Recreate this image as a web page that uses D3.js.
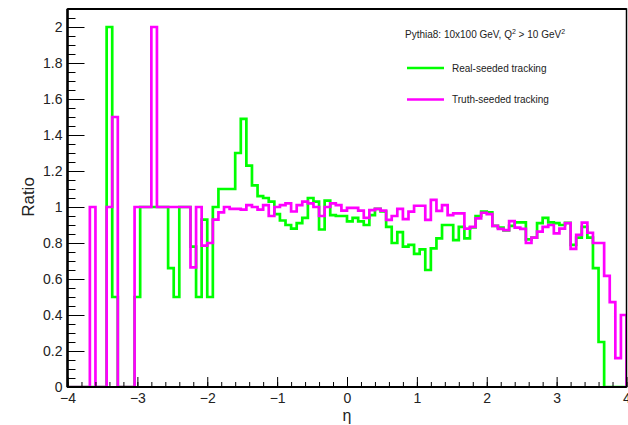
<!DOCTYPE html>
<html>
<head>
<meta charset="utf-8">
<script src="https://cdn.jsdelivr.net/npm/d3@7"></script>
<style>
  body { margin: 0; background: #fff; }
  svg { display: block; font-family: 'Liberation Sans', Arial, sans-serif; }
  .axis .domain { display: none; }
  .axis line { stroke: #000; }
  .axis text { fill: #222; }
</style>
</head>
<body>
<svg width="628" height="425"></svg>
<script>
// binning of both histograms: 100 bins of eta between -4 and 4
const etaMin = -4;
const etaMax = 4;
const nBins = 100;

// ratio per bin
const realSeeded = [
  0, 0, 0, 0, 0, 0, 0, 2.0, 0.5, 0,
  0, 0, 0.5, 1, 1, 1, 1, 1, 0.66, 0.5,
  1, 1, 0.78, 0.5, 0.93, 0.5, 1.0, 1.1, 1.1, 1.1,
  1.3, 1.49, 1.23, 1.12, 1.06, 1.05, 1.03, 0.96, 0.925, 0.9,
  0.88, 0.91, 0.94, 1.05, 1.03, 0.875, 1.035, 0.955, 0.95, 0.95,
  0.92, 0.94, 0.92, 0.9, 0.955, 0.99, 0.975, 0.89, 0.8, 0.86,
  0.78, 0.79, 0.74, 0.765, 0.65, 0.77, 0.826, 0.9, 0.9, 0.816,
  0.89, 0.826, 0.887, 0.95, 0.975, 0.97, 0.895, 0.885, 0.87, 0.895,
  0.915, 0.915, 0.82, 0.83, 0.91, 0.94, 0.915, 0.91, 0.9, 0.912,
  0.79, 0.83, 0.89, 0.83, 0.66, 0.25, 0, 0, 0, 0
];

const truthSeeded = [
  0, 0, 0, 0, 1.0, 0, 0, 1.0, 1.5, 0,
  0, 0, 1, 1, 1, 2.0, 1, 1, 1, 1,
  1, 1, 0.665, 1.0, 0.785, 0.8, 0.93, 0.97, 1.0, 0.99,
  0.99, 0.985, 1.01, 1.0, 0.985, 1.01, 0.95, 1.0, 1.01, 1.02,
  0.975, 1.01, 1.03, 1.02, 1.0, 0.95, 1.0, 1.02, 1.01, 0.98,
  0.995, 0.995, 0.98, 0.94, 0.983, 0.99, 0.98, 0.928, 0.95, 0.99,
  0.933, 0.974, 1.007, 1.007, 0.928, 1.04, 0.978, 1.01, 0.955, 0.965,
  0.965, 0.88, 0.89, 0.937, 0.968, 0.96, 0.895, 0.878, 0.872, 0.922,
  0.885, 0.878, 0.8, 0.83, 0.863, 0.89, 0.9, 0.853, 0.88, 0.91,
  0.767, 0.845, 0.913, 0.857, 0.8, 0.8, 0.617, 0.472, 0.16, 0.4
];

const seriesNames = ['Real-seeded tracking', 'Truth-seeded tracking'];
const seriesColors = ['#00ff00', '#ff00ff'];
const xTickValues = [-4, -3, -2, -1, 0, 1, 2, 3, 4];
const yTickValues = [0, 0.2, 0.4, 0.6, 0.8, 1, 1.2, 1.4, 1.6, 1.8, 2];

var svgElement = d3.select('svg');

var xScale = d3.scaleLinear().domain([etaMin, etaMax]).range([67.5, 626.5]);
var yScale = d3.scaleLinear().domain([0, 2.1]).range([387, 9]);

var binWidth = (etaMax - etaMin) / nBins;

// step outline like ROOT's HIST option
function stepPoints(values) {
  var pts = [[etaMin, 0]];
  values.forEach(function (v, i) {
    pts.push([etaMin + i * binWidth, v]);
    pts.push([etaMin + (i + 1) * binWidth, v]);
  });
  pts.push([etaMax, 0]);
  return pts;
}

var stepLine = d3.line()
  .x(function (d) { return xScale(d[0]); })
  .y(function (d) { return yScale(d[1]); });

svgElement.append('clipPath').attr('id', 'plotclip')
  .append('rect')
  .attr('x', xScale.range()[0])
  .attr('y', yScale.range()[1])
  .attr('width', xScale.range()[1] - xScale.range()[0])
  .attr('height', yScale.range()[0] - yScale.range()[1]);

svgElement.append('g')
  .attr('clip-path', 'url(#plotclip)')
  .selectAll('path')
  .data([realSeeded, truthSeeded])
  .enter()
  .append('path')
  .attr('d', function (d) { return stepLine(stepPoints(d)); })
  .attr('fill', 'none')
  .attr('stroke', function (d, i) { return seriesColors[i]; })
  .attr('stroke-width', 2.7)
  .attr('stroke-linejoin', 'miter');

// frame
svgElement.append('rect')
  .attr('x', xScale.range()[0])
  .attr('y', yScale.range()[1])
  .attr('width', xScale.range()[1] - xScale.range()[0])
  .attr('height', yScale.range()[0] - yScale.range()[1])
  .attr('fill', 'none')
  .attr('stroke', '#000')
  .attr('stroke-width', 1.5);

// y axis, ticks inside the frame
svgElement.append('g')
  .attr('class', 'axis')
  .attr('transform', 'translate(' + xScale.range()[0] + ',0)')
  .call(d3.axisLeft(yScale).tickValues(d3.range(0, 2.1001, 0.05)).tickSize(-8).tickFormat(''));

svgElement.append('g')
  .attr('class', 'axis')
  .attr('transform', 'translate(' + xScale.range()[0] + ',0)')
  .call(d3.axisLeft(yScale).tickValues(yTickValues).tickSize(-17).tickPadding(5)
    .tickFormat(function (d) { return String(+d.toFixed(1)); }))
  .selectAll('text')
  .attr('font-size', 14);

// x axis
svgElement.append('g')
  .attr('class', 'axis')
  .attr('transform', 'translate(0,' + yScale.range()[0] + ')')
  .call(d3.axisBottom(xScale).tickValues(d3.range(-4, 4.001, 0.2)).tickSize(-5).tickFormat(''));

svgElement.append('g')
  .attr('class', 'axis')
  .attr('transform', 'translate(0,' + yScale.range()[0] + ')')
  .call(d3.axisBottom(xScale).tickValues(xTickValues).tickSize(-10).tickPadding(6))
  .selectAll('text')
  .attr('font-size', 14);

// thicker left and bottom axis lines
svgElement.append('line')
  .attr('x1', xScale.range()[0]).attr('x2', xScale.range()[0])
  .attr('y1', yScale.range()[1]).attr('y2', yScale.range()[0])
  .attr('stroke', '#000').attr('stroke-width', 2.5);
svgElement.append('line')
  .attr('x1', xScale.range()[0]).attr('x2', xScale.range()[1])
  .attr('y1', yScale.range()[0]).attr('y2', yScale.range()[0])
  .attr('stroke', '#000').attr('stroke-width', 2.2);
svgElement.append('line')
  .attr('x1', xScale.range()[0]).attr('x2', xScale.range()[1])
  .attr('y1', yScale.range()[1]).attr('y2', yScale.range()[1])
  .attr('stroke', '#000').attr('stroke-width', 2.2);

// axis titles
svgElement.append('text')
  .attr('x', (xScale.range()[0] + xScale.range()[1]) / 2)
  .attr('y', 421)
  .attr('text-anchor', 'middle')
  .attr('font-size', 16)
  .attr('fill', '#222')
  .text('η');

svgElement.append('text')
  .attr('transform', 'translate(34,197) rotate(-90)')
  .attr('text-anchor', 'middle')
  .attr('font-size', 17)
  .attr('fill', '#222')
  .text('Ratio');

// legend
var legendGroup = svgElement.append('g').attr('class', 'legend');

var header = legendGroup.append('text')
  .attr('x', 405)
  .attr('y', 38)
  .attr('font-size', 10)
  .attr('fill', '#222');
header.append('tspan').text('Pythia8: 10x100 GeV, Q');
header.append('tspan').attr('font-size', 7).attr('dy', -4).text('2');
header.append('tspan').attr('dy', 4).text(' > 10 GeV');
header.append('tspan').attr('font-size', 7).attr('dy', -4).text('2');

var legendItems = legendGroup.selectAll('g.item')
  .data(seriesNames)
  .enter()
  .append('g')
  .attr('class', 'item')
  .attr('transform', function (d, i) { return 'translate(0,' + (68 + i * 31.5) + ')'; });

legendItems.append('line')
  .attr('x1', 407).attr('x2', 444)
  .attr('y1', 0).attr('y2', 0)
  .attr('stroke', function (d, i) { return seriesColors[i]; })
  .attr('stroke-width', 2.7);

legendItems.append('text')
  .attr('x', 452)
  .attr('y', 3.5)
  .attr('font-size', 10)
  .attr('fill', '#222')
  .text(function (d) { return d; });
</script>
</body>
</html>
